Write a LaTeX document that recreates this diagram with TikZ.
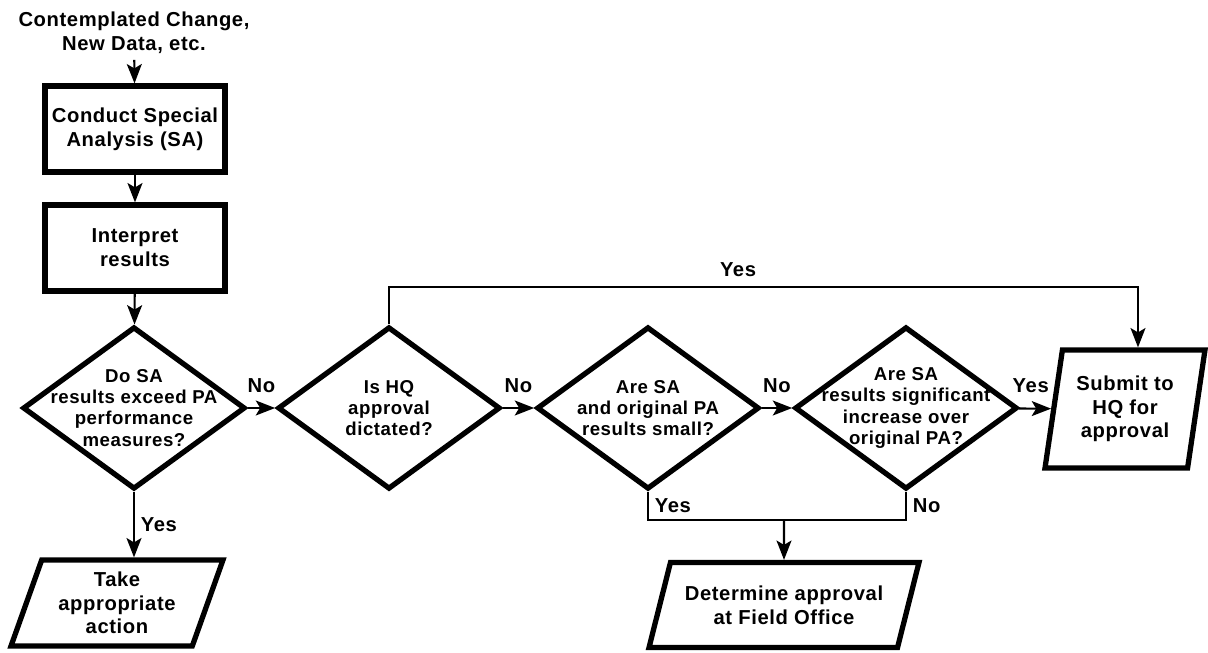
\documentclass[tikz,border=0pt]{standalone}
\usepackage{fontspec}
\setmainfont{Liberation Sans}[LetterSpace=3]
\usetikzlibrary{shapes.geometric,arrows.meta}

\begin{document}
\begin{tikzpicture}[x=0.02cm,y=-0.02cm,font=\fontsize{11.5}{13.5}\selectfont\bfseries]%
  \tikzstyle{boxn}=[rectangle,draw,line width=3pt,minimum width=3.6cm,minimum height=1.72cm,align=center]
  \tikzstyle{decn}=[diamond,draw,line width=3pt,minimum width=4.45cm,minimum height=3.25cm,inner sep=0pt]
  \tikzstyle{dtxt}=[align=center,font=\fontsize{10.6}{12}\selectfont\bfseries]
  \tikzstyle{paran}=[trapezium,draw,line width=3pt,trapezium stretches body,inner sep=1pt,align=center]
  \tikzstyle{arr}=[line width=1.2pt,-{Stealth[length=11pt,width=8.5pt,inset=2.5pt]}]
  \tikzstyle{con}=[line width=1.2pt]
  \useasboundingbox (0,0) rectangle (1208,653);
  \node(start) at (134,33) [align=center]{Contemplated Change,\\New Data, etc.};
  \node(sa) at (135,129) [boxn]{Conduct Special\\Analysis (SA)};
  \node(interp) at (135,248) [boxn]{Interpret\\results};
  \node(d1) at (134,408) [decn,label={[dtxt]center:Do SA\\results exceed PA\\performance\\measures?}]{};
  \node(d2) at (389,408) [decn,label={[dtxt]center:Is HQ\\approval\\dictated?}]{};
  \node(d3) at (648,408) [decn,label={[dtxt]center:Are SA\\and original PA\\results small?}]{};
  \node(d4) at (906,408) [decn,label={[dtxt]center:Are SA\\results significant\\increase over\\original PA?}]{};
  \node(act) at (117,603) [paran,trapezium left angle=65,trapezium right angle=115,
    minimum width=4.24cm,minimum height=1.72cm]{Take\\appropriate\\action};
  \node(field) at (784,605) [paran,trapezium left angle=63,trapezium right angle=117,
    minimum width=5.4cm,minimum height=1.7cm]{Determine approval\\at Field Office};
  \node(hq) at (1125,409) [paran,trapezium left angle=76,trapezium right angle=104,
    minimum width=3.2cm,minimum height=2.36cm]{Submit to\\HQ for\\approval};
  \coordinate(top) at (1138,287);
  \coordinate(join) at (784,520);
  % main chain
  \draw[arr] (start) -- (sa);
  \draw[arr] (sa) -- (interp);
  \draw[arr] (interp) -- (d1);
  \draw[arr] (d1.south) -- (d1.south |- act.north) node[midway,right]{Yes};
  \draw[arr] (d1) -- (d2) node[midway,above=5pt]{No};
  \draw[arr] (d2) -- (d3) node[midway,above=5pt]{No};
  \draw[arr] (d3) -- (d4) node[midway,above=5pt]{No};
  \draw[arr] (d4) -- (hq) node[midway,above=5pt,xshift=-2.5pt]{Yes};
  % HQ approval dictated
  \draw[arr] (d2.north) |- (top) node[pos=0.733,above=2pt]{Yes} -- (top |- hq.north);
  % field office
  \draw[con] (d3.south) -- (d3.south |- join) node[midway,right]{Yes}
    -- (d4.south |- join) -- (d4.south) node[midway,right]{No};
  \draw[arr] (join) -- (field);
\end{tikzpicture}
\end{document}
